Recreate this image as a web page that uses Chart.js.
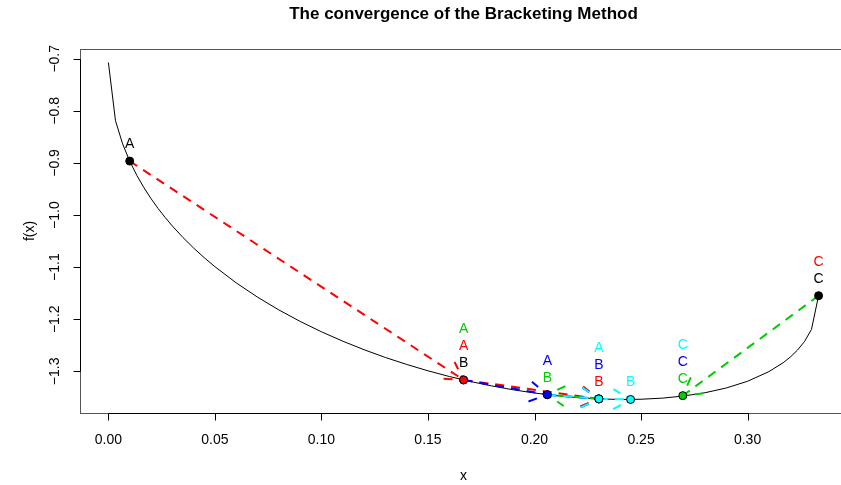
<!DOCTYPE html>
<html>
<head>
<meta charset="utf-8">
<script src="https://cdn.jsdelivr.net/npm/chart.js@4.4.1/dist/chart.umd.min.js"></script>
<style>
  html, body { margin: 0; padding: 0; background: #fff; overflow: hidden; }
  #wrap { width: 860px; height: 485px; }
</style>
</head>
<body>
<div id="wrap"><canvas id="bracketChart" width="860" height="485"></canvas></div>
<script>
// f(x) sampled along [0, 1/3], finer near the steep ends
const curveX = [0, 0.00333, 0.00667, 0.01, 0.01333, 0.01667, 0.02, 0.02333, 0.02667, 0.03,
    0.035, 0.04, 0.045, 0.05, 0.06, 0.07, 0.08, 0.09, 0.10, 0.11, 0.12, 0.13, 0.14, 0.15,
    0.16, 0.17, 0.18, 0.19, 0.20, 0.21, 0.22, 0.23, 0.24, 0.25, 0.26, 0.27, 0.28, 0.29,
    0.30, 0.31, 0.31667, 0.32, 0.32333, 0.32667, 0.33, 0.33333];
const curveY = [-0.7071, -0.8190, -0.8633, -0.8964, -0.9238, -0.9474, -0.9684, -0.9874,
    -1.0048, -1.0209, -1.0431, -1.0633, -1.0819, -1.0991, -1.1302, -1.1576, -1.1821, -1.2042,
    -1.2241, -1.2421, -1.2585, -1.2734, -1.2868, -1.2990, -1.3099, -1.3196, -1.3281, -1.3355,
    -1.3416, -1.3466, -1.3504, -1.3529, -1.3540, -1.3536, -1.3515, -1.3474, -1.3411, -1.3320,
    -1.3191, -1.3006, -1.2836, -1.2728, -1.2597, -1.2431, -1.2196, -1.1547];

// bracket (A, B, C) after each step
const stepColors = ['#000000', '#FF0000', '#00CD00', '#0000FF', '#00FFFF'];
const bracketA = [0.01, 0.1667, 0.1667, 0.206, 0.2302];
const bracketB = [0.1667, 0.2302, 0.206, 0.2302, 0.2451];
const bracketC = [0.33333, 0.33333, 0.2696, 0.2696, 0.2696];
const fA = [-0.8964, -1.3165, -1.3165, -1.3448, -1.3529];
const fB = [-1.3165, -1.3529, -1.3448, -1.3529, -1.3540];
const fC = [-1.1547, -1.1547, -1.3467, -1.3467, -1.3467];

const xTicks = [0, 0.05, 0.10, 0.15, 0.20, 0.25, 0.30];
const yTicks = [-1.3, -1.2, -1.1, -1.0, -0.9, -0.8, -0.7];

const FONT = '"Liberation Sans", Arial, Helvetica, sans-serif';

// points: first bracket in black, then only the ends that moved in each step
const markers = [];
const markerFill = [];
for (let i = 0; i < stepColors.length; i++) {
    const ends = [[bracketA, fA], [bracketB, fB], [bracketC, fC]];
    ends.forEach(([xs, ys]) => {
        if (i === 0 || xs[i] !== xs[i - 1]) {
            markers.push({ x: xs[i], y: ys[i] });
            markerFill.push(stepColors[i]);
        }
    });
}

function drawArrow(ctx, x0, y0, x1, y1, color) {
    const len = 20, ang = Math.PI / 6;
    const t = Math.atan2(y1 - y0, x1 - x0);
    ctx.save();
    ctx.strokeStyle = color;
    ctx.lineWidth = 2;
    ctx.setLineDash([9, 7]);
    ctx.beginPath();
    ctx.moveTo(x0, y0);
    ctx.lineTo(x1, y1);
    ctx.stroke();
    ctx.beginPath();
    ctx.moveTo(x1 - len * Math.cos(t - ang), y1 - len * Math.sin(t - ang));
    ctx.lineTo(x1, y1);
    ctx.lineTo(x1 - len * Math.cos(t + ang), y1 - len * Math.sin(t + ang));
    ctx.stroke();
    ctx.restore();
}

const bracketPlugin = {
    id: 'bracketPlugin',
    afterDatasetDraw(chart, args) {
        if (args.index !== 1) return;
        const ctx = chart.ctx;
        const xs = chart.scales.x, ys = chart.scales.y;
        const ends = [[bracketA, fA], [bracketB, fB], [bracketC, fC]];
        for (let i = 1; i < stepColors.length; i++) {
            ends.forEach(([bx, by]) => {
                if (bx[i] === bx[i - 1]) return;
                drawArrow(ctx,
                    xs.getPixelForValue(bx[i - 1]), ys.getPixelForValue(by[i - 1]),
                    xs.getPixelForValue(bx[i]), ys.getPixelForValue(by[i]),
                    stepColors[i]);
            });
        }
    },
    afterDraw(chart) {
        const ctx = chart.ctx;
        const xs = chart.scales.x, ys = chart.scales.y;
        const area = chart.chartArea;

        // frame
        ctx.save();
        ctx.strokeStyle = '#555';
        ctx.lineWidth = 1;
        ctx.strokeRect(Math.round(area.left) + 0.5, Math.round(area.top) + 0.5,
            Math.round(area.right - area.left), Math.round(area.bottom - area.top));

        // axes with ticks
        ctx.strokeStyle = '#000';
        const bottom = Math.round(area.bottom) + 0.5;
        const left = Math.round(area.left) + 0.5;
        const x0 = Math.round(xs.getPixelForValue(xTicks[0])) + 0.5;
        const x1 = Math.round(xs.getPixelForValue(xTicks[xTicks.length - 1])) + 0.5;
        ctx.beginPath();
        ctx.moveTo(x0, bottom);
        ctx.lineTo(x1, bottom);
        xTicks.forEach(v => {
            const px = Math.round(xs.getPixelForValue(v)) + 0.5;
            ctx.moveTo(px, bottom);
            ctx.lineTo(px, bottom + 7);
        });
        const y0 = Math.round(ys.getPixelForValue(yTicks[0])) + 0.5;
        const y1 = Math.round(ys.getPixelForValue(yTicks[yTicks.length - 1])) + 0.5;
        ctx.moveTo(left, y0);
        ctx.lineTo(left, y1);
        yTicks.forEach(v => {
            const py = Math.round(ys.getPixelForValue(v)) + 0.5;
            ctx.moveTo(left, py);
            ctx.lineTo(left - 7, py);
        });
        ctx.stroke();

        // tick labels
        ctx.fillStyle = '#000';
        ctx.font = '14px ' + FONT;
        ctx.textAlign = 'center';
        ctx.textBaseline = 'middle';
        xTicks.forEach(v => {
            ctx.fillText(v.toFixed(2), xs.getPixelForValue(v), 440);
        });
        yTicks.forEach(v => {
            ctx.save();
            ctx.translate(55, ys.getPixelForValue(v));
            ctx.rotate(-Math.PI / 2);
            ctx.fillText(v.toFixed(1).replace('-', '\u2212'), 0, 0);
            ctx.restore();
        });

        // axis titles
        ctx.fillText('x', (area.left + area.right) / 2, 476);
        ctx.save();
        ctx.translate(30, (area.top + area.bottom) / 2);
        ctx.rotate(-Math.PI / 2);
        ctx.fillText('f(x)', 0, 0);
        ctx.restore();

        // main title
        ctx.font = 'bold 17px ' + FONT;
        ctx.fillText('The convergence of the Bracketing Method', (area.left + area.right) / 2, 14);

        // A/B/C labels stacked above each point
        ctx.font = '14px ' + FONT;
        const rows = {};
        const names = ['A', 'B', 'C'];
        const ends = [[bracketA, fA], [bracketB, fB], [bracketC, fC]];
        for (let i = 0; i < stepColors.length; i++) {
            ends.forEach(([bx, by], k) => {
                const key = bx[i].toFixed(4);
                rows[key] = (rows[key] || 0) + 1;
                ctx.fillStyle = stepColors[i];
                ctx.fillText(names[k], xs.getPixelForValue(bx[i]),
                    ys.getPixelForValue(by[i]) - 17 * rows[key]);
            });
        }
        ctx.restore();
    }
};

new Chart(document.getElementById('bracketChart'), {
    type: 'scatter',
    data: {
        datasets: [
            {
                label: 'points',
                data: markers,
                pointRadius: 4,
                pointHoverRadius: 4,
                pointBackgroundColor: markerFill,
                pointBorderColor: '#000',
                pointBorderWidth: 1,
                showLine: false
            },
            {
                label: 'f(x)',
                data: curveX.map((x, i) => ({ x: x, y: curveY[i] })),
                showLine: true,
                borderColor: '#000',
                borderWidth: 1,
                pointRadius: 0,
                tension: 0
            }
        ]
    },
    options: {
        responsive: false,
        animation: false,
        events: [],
        layout: { padding: { left: 80, right: 13, top: 49, bottom: 72 } },
        plugins: {
            legend: { display: false },
            tooltip: { enabled: false }
        },
        scales: {
            x: { type: 'linear', display: false, min: -0.01333, max: 0.34667 },
            y: { type: 'linear', display: false, min: -1.38, max: -0.6812 }
        }
    },
    plugins: [bracketPlugin]
});
</script>
</body>
</html>
